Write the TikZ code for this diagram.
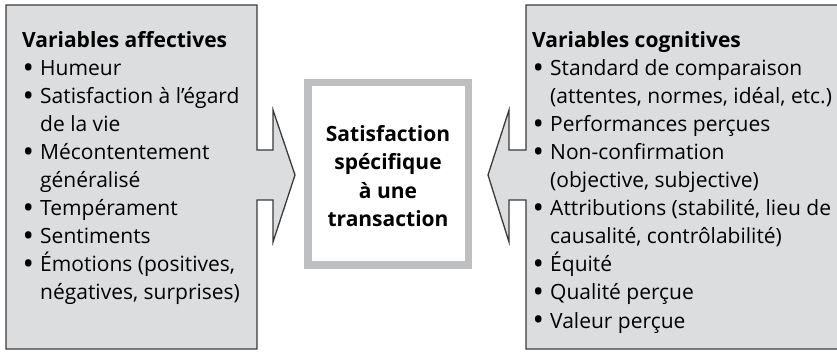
\documentclass[tikz,border=0pt]{standalone}
\usepackage{fontspec}
\setmainfont{Open Sans}
\definecolor{boxfill}{HTML}{DCDDDE}
\definecolor{boxline}{HTML}{3A3A3A}
\definecolor{framegray}{HTML}{BEBFC1}
\newcommand\Bt[1]{\hspace*{0.5pt}\makebox[17.5pt][l]{\raisebox{-2.5pt}{\scalebox{1.45}{\textbullet}}}#1}
\newcommand\Ct[1]{\hspace*{18pt}#1}
\tikzset{
  panel/.style={fill=boxfill, draw=boxline, line width=1.3pt, line join=miter},
  txt/.style={anchor=base west, inner sep=0pt, font=\fontsize{21}{28}\selectfont},
  head/.style={txt, font=\fontsize{21}{28}\selectfont\bfseries},
}
\begin{document}
\begin{tikzpicture}[x=1pt,y=-1pt]
\useasboundingbox (0,0) rectangle (837,352);
% left panel with arrow
\draw[panel] (6,5) -- (257,5) -- (257,150) -- (273,150) -- (273,110) -- (295,175)
  -- (273,242) -- (273,200) -- (257,200) -- (257,349) -- (6,349) -- cycle;
% right panel with arrow
\draw[panel] (526,5) -- (845,5) -- (845,349) -- (526,349) -- (526,200) -- (509,200)
  -- (509,242) -- (488,175) -- (509,110) -- (509,150) -- (526,150) -- cycle;
% centre box
\draw[draw=framegray, fill=white, line width=7.5pt] (308,82.5) rectangle (468.5,265);
\node[align=center, inner sep=0pt, font=\fontsize{21}{28.5}\selectfont\bfseries] (centre) at (388,176)
  {Satisfaction\\spécifique\\à une\\transaction};
% left texts
\node[head] (lh) at (22,48) {Variables affectives};
\foreach \k/\t [count=\i] in {
  \Bt/Humeur,
  \Bt/{Satisfaction à l’égard},
  \Ct/{de la vie},
  \Bt/{Mécontentement},
  \Ct/{généralisé},
  \Bt/{Tempérament},
  \Bt/{Sentiments},
  \Bt/{Émotions (positives,},
  \Ct/{négatives, surprises)}}
  \node[txt] (l\i) at (22,48+28*\i) {\k{\t}};
% right texts
\node[head] (rh) at (532,48) {Variables cognitives};
\foreach \k/\t [count=\i] in {
  \Bt/{Standard de comparaison},
  \Ct/{(attentes, normes, idéal, etc.)},
  \Bt/{Performances perçues},
  \Bt/{Non-confirmation},
  \Ct/{(objective, subjective)},
  \Bt/{Attributions (stabilité, lieu de},
  \Ct/{causalité, contrôlabilité)},
  \Bt/{Équité},
  \Bt/{Qualité perçue},
  \Bt/{Valeur perçue}}
  \node[txt] (r\i) at (532,48+28*\i) {\k{\t}};
\end{tikzpicture}
\end{document}
